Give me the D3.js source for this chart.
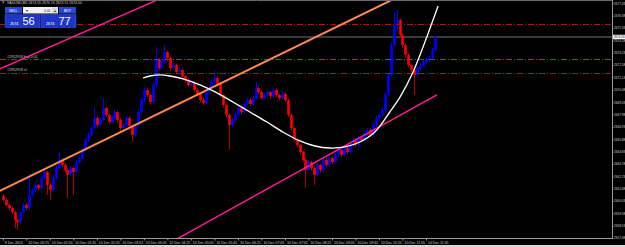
<!DOCTYPE html>
<html>
<head>
<meta charset="utf-8">
<script src="https://cdn.jsdelivr.net/npm/d3@7"></script>
<style>
  body { margin: 0; background: #000; overflow: hidden; }
  svg { display: block; }
</style>
</head>
<body>
<svg id="chart"></svg>
<script>
// M5 bars, index 0 = 9 Dec 23:45
const opens = [
  2661.04,2660.70,2660.28,2660.02,2659.68,2659.00,2658.80,2659.68,2660.28,2660.02,
  2661.13,2661.55,2661.98,2661.72,2662.57,2663.08,2661.98,2661.55,2662.57,2663.42,
  2664.10,2663.68,2663.25,2662.83,2663.42,2663.08,2663.93,2664.27,2664.95,2665.80,
  2666.23,2666.82,2667.67,2667.08,2667.50,2668.52,2667.93,2667.33,2667.67,2668.18,
  2667.50,2666.82,2667.08,2667.67,2666.99,2666.23,2667.08,2668.18,2669.20,2670.05,
  2669.63,2669.03,2670.48,2672.60,2671.92,2672.43,2673.28,2672.77,2671.92,2672.18,
  2671.58,2671.75,2671.24,2670.90,2670.48,2670.65,2670.05,2669.71,2669.20,2668.95,
  2669.88,2670.22,2670.73,2671.07,2670.56,2669.63,2668.78,2667.93,2667.08,2667.50,
  2667.93,2668.52,2668.18,2668.86,2669.20,2668.86,2669.37,2670.22,2669.88,2669.37,
  2669.63,2669.88,2669.54,2670.05,2669.63,2669.37,2669.71,2669.20,2667.93,2666.82,
  2665.80,2665.38,2664.78,2664.10,2663.25,2663.93,2663.42,2662.83,2663.68,2663.25,
  2664.10,2663.68,2664.27,2663.93,2664.53,2664.95,2664.53,2665.12,2664.78,2665.38,
  2665.80,2665.38,2665.97,2665.80,2666.40,2666.65,2666.23,2667.08,2667.67,2667.93,
  2668.35,2669.63,2671.33,2673.88,2675.58,2676.00,2674.73,2673.88,2673.03,2672.18,
  2671.75,2671.33,2671.92,2672.09,2672.43,2672.60,2672.77,2673.45];
const highs = [
  2661.20,2660.85,2660.40,2660.15,2659.80,2659.10,2659.80,2660.45,2660.50,2662.83,
  2661.75,2662.20,2662.10,2662.75,2663.30,2663.20,2662.10,2662.75,2663.60,2664.78,
  2664.25,2663.80,2663.40,2663.60,2663.55,2664.10,2664.45,2665.15,2666.00,2666.45,
  2667.00,2668.52,2667.80,2667.70,2669.37,2668.65,2668.05,2667.85,2668.40,2668.30,
  2667.65,2667.25,2667.85,2667.80,2667.10,2667.25,2668.40,2669.40,2670.30,2670.20,
  2669.75,2670.70,2673.71,2672.75,2672.65,2673.88,2673.40,2672.90,2672.40,2672.30,
  2671.95,2671.90,2671.35,2671.05,2670.85,2670.80,2670.20,2669.85,2669.35,2670.05,
  2670.40,2670.95,2671.75,2671.20,2670.70,2669.75,2668.90,2668.05,2667.70,2668.10,
  2668.70,2668.65,2669.05,2669.40,2669.35,2669.55,2670.73,2670.35,2670.00,2669.80,
  2670.05,2670.00,2670.25,2670.20,2669.75,2669.90,2669.85,2669.35,2668.05,2666.95,
  2665.95,2665.50,2664.90,2664.25,2664.10,2664.05,2663.55,2663.85,2663.80,2664.30,
  2664.25,2664.45,2664.40,2664.70,2665.15,2665.10,2665.30,2665.25,2665.55,2666.00,
  2665.95,2666.15,2666.10,2666.60,2666.85,2666.80,2667.25,2667.85,2668.10,2668.55,
  2669.85,2671.55,2674.10,2676.68,2676.85,2676.15,2674.85,2674.00,2673.15,2672.30,
  2671.90,2672.10,2672.30,2672.60,2672.80,2673.00,2673.65,2674.70];
const lows = [
  2660.55,2660.10,2659.85,2659.50,2658.32,2658.15,2658.70,2659.55,2659.85,2659.95,
  2661.00,2661.40,2661.50,2661.60,2662.45,2661.13,2660.70,2661.40,2662.45,2663.30,
  2663.50,2663.05,2660.87,2662.70,2661.13,2662.95,2663.80,2664.15,2664.80,2665.65,
  2666.10,2666.70,2666.90,2666.95,2667.40,2667.75,2667.15,2667.20,2667.55,2667.30,
  2666.60,2666.70,2666.95,2666.80,2665.63,2666.10,2666.95,2668.05,2669.05,2669.45,
  2668.80,2668.90,2670.35,2671.70,2671.80,2672.30,2672.55,2671.70,2671.80,2671.40,
  2671.45,2671.05,2670.70,2670.30,2670.35,2669.85,2669.50,2669.00,2668.75,2668.85,
  2669.75,2670.10,2670.60,2670.35,2669.40,2668.55,2667.70,2664.95,2666.90,2667.35,
  2667.80,2668.00,2668.05,2668.75,2668.70,2668.75,2669.25,2669.70,2669.20,2669.25,
  2669.50,2669.35,2669.40,2669.45,2669.20,2669.25,2669.00,2667.75,2666.60,2665.60,
  2665.20,2664.55,2663.90,2661.72,2663.10,2663.20,2661.98,2662.70,2663.05,2663.10,
  2663.50,2663.55,2663.75,2663.80,2664.40,2664.35,2664.40,2664.60,2664.65,2665.25,
  2665.20,2665.25,2665.60,2665.65,2666.25,2666.05,2666.10,2666.95,2667.55,2667.80,
  2668.20,2669.50,2671.20,2673.75,2675.10,2674.50,2673.65,2672.80,2671.95,2671.55,
  2669.63,2671.20,2671.80,2671.95,2672.30,2672.45,2672.65,2673.30];
const closes = [
  2660.70,2660.28,2660.02,2659.68,2659.00,2658.80,2659.68,2660.28,2660.02,2661.13,
  2661.55,2661.98,2661.72,2662.57,2663.08,2661.98,2661.55,2662.57,2663.42,2664.10,
  2663.68,2663.25,2662.83,2663.42,2663.08,2663.93,2664.27,2664.95,2665.80,2666.23,
  2666.82,2667.67,2667.08,2667.50,2668.52,2667.93,2667.33,2667.67,2668.18,2667.50,
  2666.82,2667.08,2667.67,2666.99,2666.23,2667.08,2668.18,2669.20,2670.05,2669.63,
  2669.03,2670.48,2672.60,2671.92,2672.43,2673.28,2672.77,2671.92,2672.18,2671.58,
  2671.75,2671.24,2670.90,2670.48,2670.65,2670.05,2669.71,2669.20,2668.95,2669.88,
  2670.22,2670.73,2671.07,2670.56,2669.63,2668.78,2667.93,2667.08,2667.50,2667.93,
  2668.52,2668.18,2668.86,2669.20,2668.86,2669.37,2670.22,2669.88,2669.37,2669.63,
  2669.88,2669.54,2670.05,2669.63,2669.37,2669.71,2669.20,2667.93,2666.82,2665.80,
  2665.38,2664.78,2664.10,2663.25,2663.93,2663.42,2662.83,2663.68,2663.25,2664.10,
  2663.68,2664.27,2663.93,2664.53,2664.95,2664.53,2665.12,2664.78,2665.38,2665.80,
  2665.38,2665.97,2665.80,2666.40,2666.65,2666.23,2667.08,2667.67,2667.93,2668.35,
  2669.63,2671.33,2673.88,2675.58,2676.00,2674.73,2673.88,2673.03,2672.18,2671.75,
  2671.33,2671.92,2672.09,2672.43,2672.60,2672.77,2673.45,2674.56];

// axis labels
const timeIdx = d3.range(0, 145, 8);
const timeLabels = ["9 Dec 2024","10 Dec 00:25","10 Dec 01:05","10 Dec 01:45","10 Dec 02:25",
  "10 Dec 03:05","10 Dec 03:45","10 Dec 04:25","10 Dec 05:05","10 Dec 05:45","10 Dec 06:25",
  "10 Dec 07:05","10 Dec 07:45","10 Dec 08:25","10 Dec 09:05","10 Dec 09:45","10 Dec 10:25",
  "10 Dec 11:05","10 Dec 11:45"];
const priceTicks = [2657.48,2658.53,2659.58,2660.63,2661.68,2662.73,2663.78,2664.83,2665.88,2666.93,
  2667.98,2669.03,2670.08,2671.13,2672.18,2673.23,2674.28,2675.33,2676.38,2677.43];

// objects on the chart: [bar index, price]
const upperTrend = [[-1, 2671.84], [60, 2678.52]];
const lowerTrend = [[56, 2656.94], [147.7, 2669.63]];
const orangeTrend = [[-1, 2661.47], [140, 2678.63]];
const regIdx = [47.7,50.1,53.5,56.9,61.3,67.1,72.9,78.3,84.1,89.9,95.3,101.1,106.2,111.3,116.4,121.5,126.6,131.7,135.2,139.6,143.0,146.4,148.1];
const regVal = [2671.07,2671.24,2671.33,2671.24,2670.99,2670.48,2669.80,2669.03,2668.18,2667.33,2666.48,2665.72,2665.29,2665.12,2665.21,2665.63,2666.48,2668.18,2669.46,2671.58,2673.71,2676.00,2677.19];
const tpLevel = 2675.66, openLevel = 2672.68, slLevel = 2671.50;
const bid = 2674.56;

const width = 625, height = 247;
const plotR = 612, plotB = 238.5;

const svg = d3.select("#chart").attr("width", width).attr("height", height)
  .style("font-family", "'Liberation Sans', Arial, sans-serif");

svg.append("rect").attr("width", width).attr("height", height).attr("fill", "#000");
svg.append("rect").attr("y", 245).attr("width", width).attr("height", 2).attr("fill", "#d8d8d8");

const x = d3.scaleLinear().domain([-0.95, 207.3]).range([0, plotR]);
const y = d3.scaleLinear().domain([2657.3, 2677.7]).range([240, 0]);

svg.append("clipPath").attr("id", "plot")
  .append("rect").attr("x", 0).attr("y", 1).attr("width", plotR).attr("height", plotB - 1);

const plot = svg.append("g").attr("clip-path", "url(#plot)");

// bid line
plot.append("line").attr("x1", 0).attr("x2", plotR)
  .attr("y1", y(bid)).attr("y2", y(bid))
  .attr("stroke", "#3a3a3a").attr("stroke-width", 2);

// candles
const candles = opens.map((o, i) => ({i, o, h: highs[i], l: lows[i], c: closes[i]}));
const bull = "#0000ff", bear = "#ff0000";

plot.append("g").selectAll("line")
  .data(candles)
  .join("line")
  .attr("x1", d => Math.round(x(d.i)) + 0.5)
  .attr("x2", d => Math.round(x(d.i)) + 0.5)
  .attr("y1", d => y(d.h))
  .attr("y2", d => y(d.l))
  .attr("stroke", d => d.c >= d.o ? bull : "#b00000")
  .attr("stroke-width", 1);

plot.append("g").selectAll("rect")
  .data(candles)
  .join("rect")
  .attr("x", d => Math.round(x(d.i)) - 0.8)
  .attr("width", 2.6)
  .attr("y", d => y(Math.max(d.o, d.c)))
  .attr("height", d => Math.max(1, Math.abs(y(d.o) - y(d.c))))
  .attr("fill", d => d.c >= d.o ? bull : bear);

// order levels
const levels = [
  {p: tpLevel, col: "#a01818"},
  {p: openLevel, col: "#1f7a1f"},
  {p: slLevel, col: "#a01818"}
];
plot.append("g").selectAll("line")
  .data(levels)
  .join("line")
  .attr("x1", 0).attr("x2", plotR)
  .attr("y1", d => Math.round(y(d.p)) + 0.5)
  .attr("y2", d => Math.round(y(d.p)) + 0.5)
  .attr("stroke", d => d.col)
  .attr("stroke-width", 1)
  .attr("stroke-dasharray", "6,2,1,2");

plot.append("text").attr("x", 7).attr("y", y(openLevel) - 1.5)
  .attr("fill", "#c8c8c8").attr("font-size", "3.6px").text("#2952918 buy 0.01");
plot.append("text").attr("x", 7).attr("y", y(slLevel) - 1.5)
  .attr("fill", "#c8c8c8").attr("font-size", "3.6px").text("#2952918 sl");

// trend lines
const seg = d3.line().x(d => x(d[0])).y(d => y(d[1]));
plot.append("path").attr("d", seg(orangeTrend))
  .attr("fill", "none").attr("stroke", "#ff8a50").attr("stroke-width", 2);
plot.append("path").attr("d", seg(upperTrend))
  .attr("fill", "none").attr("stroke", "#ff1e96").attr("stroke-width", 1.4);
plot.append("path").attr("d", seg(lowerTrend))
  .attr("fill", "none").attr("stroke", "#ff1e96").attr("stroke-width", 1.4);

// regression curve
const regLine = d3.line().x((d, k) => x(regIdx[k])).y(d => y(d)).curve(d3.curveCatmullRom);
plot.append("path").attr("d", regLine(regVal))
  .attr("fill", "none").attr("stroke", "#ffffff").attr("stroke-width", 1.3);

// frame line on top
svg.append("line").attr("x1", 0).attr("x2", plotR).attr("y1", 0.5).attr("y2", 0.5)
  .attr("stroke", "#6a6a6a");

// price axis
const yAxis = svg.append("g")
  .attr("transform", `translate(${plotR + 0.5},0)`)
  .call(d3.axisRight(y).tickValues(priceTicks).tickSize(1).tickPadding(0.6)
    .tickFormat(d3.format(".2f")));
yAxis.select(".domain").attr("stroke", "#9a9a9a").attr("d", `M0,0V${plotB}`);
yAxis.selectAll(".tick line").attr("stroke", "#9a9a9a");
yAxis.selectAll(".tick text").attr("fill", "#d0d0d0").attr("font-size", "3.1px")
  .attr("font-family", "'Liberation Sans', Arial, sans-serif");

// bid label on price axis
svg.append("rect").attr("x", plotR + 1).attr("y", y(bid) - 2.2).attr("width", 12).attr("height", 4.4)
  .attr("fill", "#ffffff");
svg.append("text").attr("x", plotR + 1.6).attr("y", y(bid) + 1.1)
  .attr("fill", "#000").attr("font-size", "3.1px").text(d3.format(".2f")(bid));

// time axis
const xAxis = svg.append("g")
  .attr("transform", `translate(0,${plotB})`)
  .call(d3.axisBottom(x).tickValues(timeIdx).tickSize(2).tickPadding(1)
    .tickFormat((d, k) => timeLabels[k]));
xAxis.select(".domain").attr("stroke", "#9a9a9a").attr("d", `M0,0H${plotR + 0.5}`);
xAxis.selectAll(".tick line").attr("stroke", "#9a9a9a");
xAxis.selectAll(".tick text").attr("fill", "#d0d0d0").attr("font-size", "3.5px")
  .attr("text-anchor", "start").attr("x", 1.5)
  .attr("font-family", "'Liberation Sans', Arial, sans-serif");

// header
svg.append("path").attr("d", "M2,1.6h2.4l-1.2,1.6z").attr("fill", "#d0d0d0");
svg.append("text").attr("x", 7).attr("y", 4).attr("fill", "#d0d0d0").attr("font-size", "3.5px")
  .text("XAUUSD,M5  2674.55 2674.74 2674.51 2674.60");

// one click trading panel
const panel = svg.append("g");
panel.append("rect").attr("x", 5).attr("y", 7).attr("width", 17).attr("height", 6.5).attr("fill", "#2c47d4");
panel.append("rect").attr("x", 59).attr("y", 7).attr("width", 17).attr("height", 6.5).attr("fill", "#2c47d4");
panel.append("rect").attr("x", 23).attr("y", 7).attr("width", 35).attr("height", 6.5).attr("fill", "#f2f2f2");
panel.append("rect").attr("x", 52).attr("y", 7.5).attr("width", 5.5).attr("height", 5.5).attr("fill", "#d6d6d6");
panel.append("text").attr("x", 9).attr("y", 11.5).attr("fill", "#fff").attr("font-size", "3.5px").text("SELL");
panel.append("text").attr("x", 64).attr("y", 11.5).attr("fill", "#fff").attr("font-size", "3.5px").text("BUY");
panel.append("text").attr("x", 25.5).attr("y", 11.5).attr("fill", "#333").attr("font-size", "3.5px").text("▾");
panel.append("text").attr("x", 44).attr("y", 11.5).attr("fill", "#222").attr("font-size", "3.5px").text("0.01");
panel.append("text").attr("x", 53.5).attr("y", 11.5).attr("fill", "#333").attr("font-size", "3.5px").text("▴");

const quotes = [{x: 5, big: "56"}, {x: 41, big: "77"}];
const qg = panel.selectAll("g.q").data(quotes).join("g").attr("class", "q");
qg.append("rect").attr("x", d => d.x).attr("y", 14.5).attr("width", 35).attr("height", 13)
  .attr("fill", "#1f37c8").attr("stroke", "#3e5ae0").attr("stroke-width", 0.5);
qg.append("text").attr("x", d => d.x + 5).attr("y", 24.5).attr("fill", "#fff")
  .attr("font-size", "3.8px").text("2674");
qg.append("text").attr("x", d => d.x + 17.5).attr("y", 25.2).attr("fill", "#fff")
  .attr("font-size", "11px").text(d => d.big);
</script>
</body>
</html>
